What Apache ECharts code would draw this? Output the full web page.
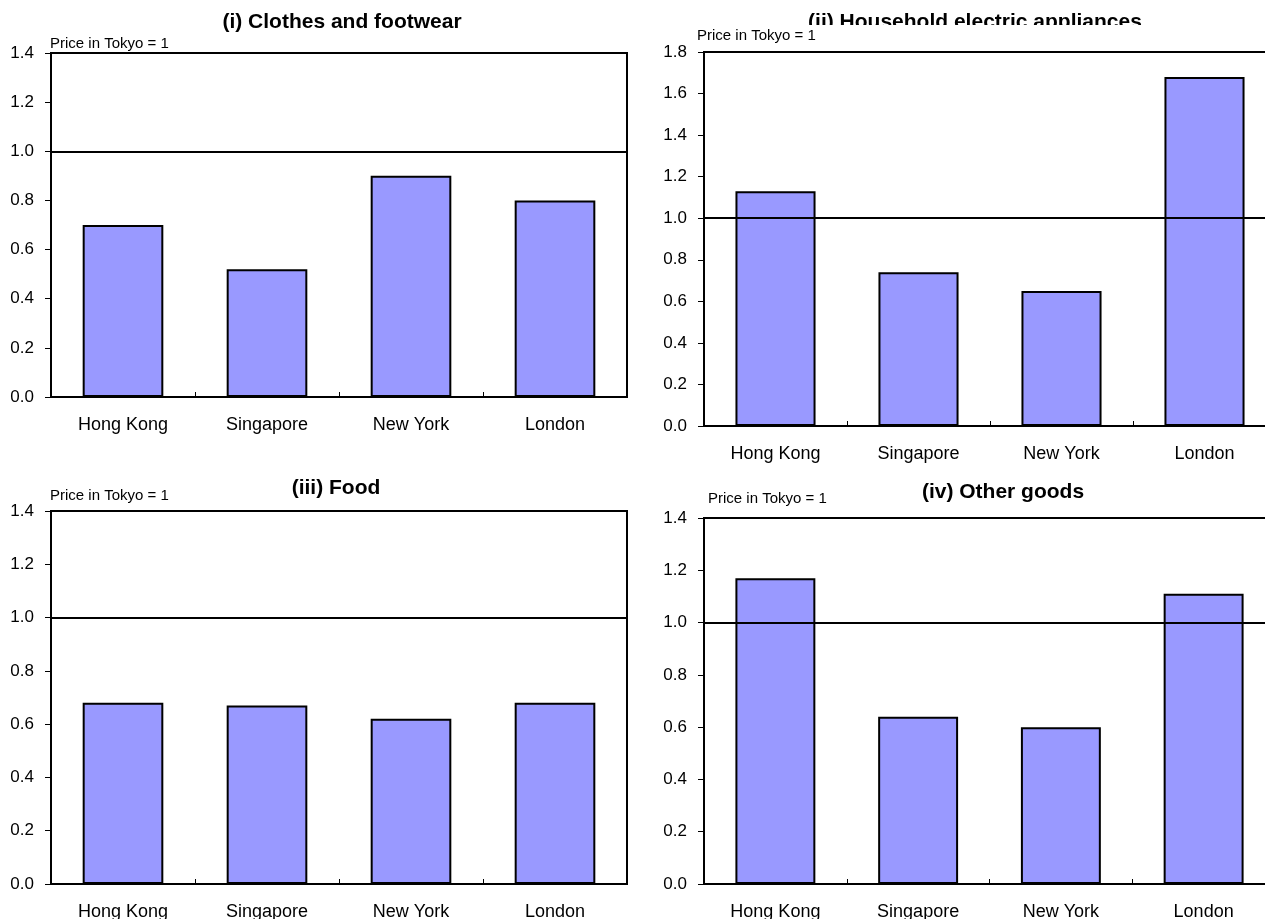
<!DOCTYPE html>
<html>
<head>
<meta charset="utf-8">
<script src="https://cdn.jsdelivr.net/npm/echarts@6/dist/echarts.min.js"></script>
<style>
html,body{margin:0;padding:0;background:#fff;}
#chart{width:1265px;height:919px;}
</style>
</head>
<body>
<div id="chart"></div>
<script>
// ---- data ----
const categories = ['Hong Kong', 'Singapore', 'New York', 'London'];
const clothesFootwear = [0.70, 0.52, 0.90, 0.80];
const householdAppliances = [1.13, 0.74, 0.65, 1.68];
const food = [0.68, 0.67, 0.62, 0.68];
const otherGoods = [1.17, 0.64, 0.60, 1.11];
const panelTitles = ['(i) Clothes and footwear', '(ii) Household electric appliances', '(iii) Food', '(iv) Other goods'];
const unitNote = 'Price in Tokyo = 1';
const yMaxes = [1.4, 1.8, 1.4, 1.4];
const yInterval = 0.2;
const referenceLevel = 1.0;

const FONT = '"Liberation Sans", Arial, sans-serif';
const seriesData = [clothesFootwear, householdAppliances, food, otherGoods];

// layout (pixels)
const grids = [
  {left: 51, top: 53, width: 576, height: 344},
  {left: 704, top: 52, width: 572, height: 374},
  {left: 51, top: 511, width: 576, height: 373},
  {left: 704, top: 518, width: 571, height: 366}
];
const titlePos = [[342, 22], [975, 22], [336, 488], [1003, 492]];
const notePos = [[50, 44], [697, 36], [50, 496], [708, 499]];

const chart = echarts.init(document.getElementById('chart'), null, {renderer: 'canvas'});

const option = {
  animation: false,
  backgroundColor: '#fff',
  grid: grids.map(g => Object.assign({
    show: true, borderColor: '#000', borderWidth: 2, backgroundColor: 'transparent',
    containLabel: false, outerBoundsMode: 'none'
  }, g)),
  xAxis: grids.map((g, i) => ({
    type: 'category', gridIndex: i, data: categories, boundaryGap: true,
    axisLine: {show: true, lineStyle: {color: '#000', width: 2}},
    axisTick: {show: true, inside: true, length: 5, lineStyle: {color: '#000', width: 1}},
    axisLabel: {color: '#000', fontSize: 18, fontFamily: FONT, margin: 19},
    splitLine: {show: false}
  })),
  yAxis: grids.map((g, i) => ({
    type: 'value', gridIndex: i, min: 0, max: yMaxes[i], interval: yInterval,
    axisLine: {show: true, lineStyle: {color: '#000', width: 2}},
    axisTick: {show: true, inside: false, length: 6, lineStyle: {color: '#000', width: 1}},
    axisLabel: {color: '#000', fontSize: 17, fontFamily: FONT, margin: 17,
      formatter: v => v.toFixed(1)},
    splitLine: {show: false}
  })),
  series: seriesData.map((d, i) => ({
    type: 'bar', xAxisIndex: i, yAxisIndex: i, data: d, barWidth: '56%',
    itemStyle: {color: '#9999ff', borderColor: '#000', borderWidth: 2},
    markLine: {
      silent: true, symbol: ['none', 'none'], label: {show: false},
      lineStyle: {color: '#000', width: 2, type: 'solid'},
      data: [{yAxis: referenceLevel}]
    }
  })),
  graphic: [].concat(
    panelTitles.map((t, i) => ({
      type: 'text', x: titlePos[i][0], y: titlePos[i][1], z: 90, silent: true,
      style: {text: t, fill: '#000', font: 'bold 21px ' + FONT, align: 'center', verticalAlign: 'middle'}
    })),
    [{
      type: 'rect', z: 95, silent: true,
      shape: {x: 800, y: 25, width: 360, height: 22},
      style: {fill: '#fff'}
    }],
    notePos.map((p, i) => ({
      type: 'text', x: p[0], y: p[1], z: 100, silent: true,
      style: {text: unitNote, fill: '#000', font: '15px ' + FONT, align: 'left', verticalAlign: 'middle'}
    }))
  )
};
chart.setOption(option);
</script>
</body>
</html>
